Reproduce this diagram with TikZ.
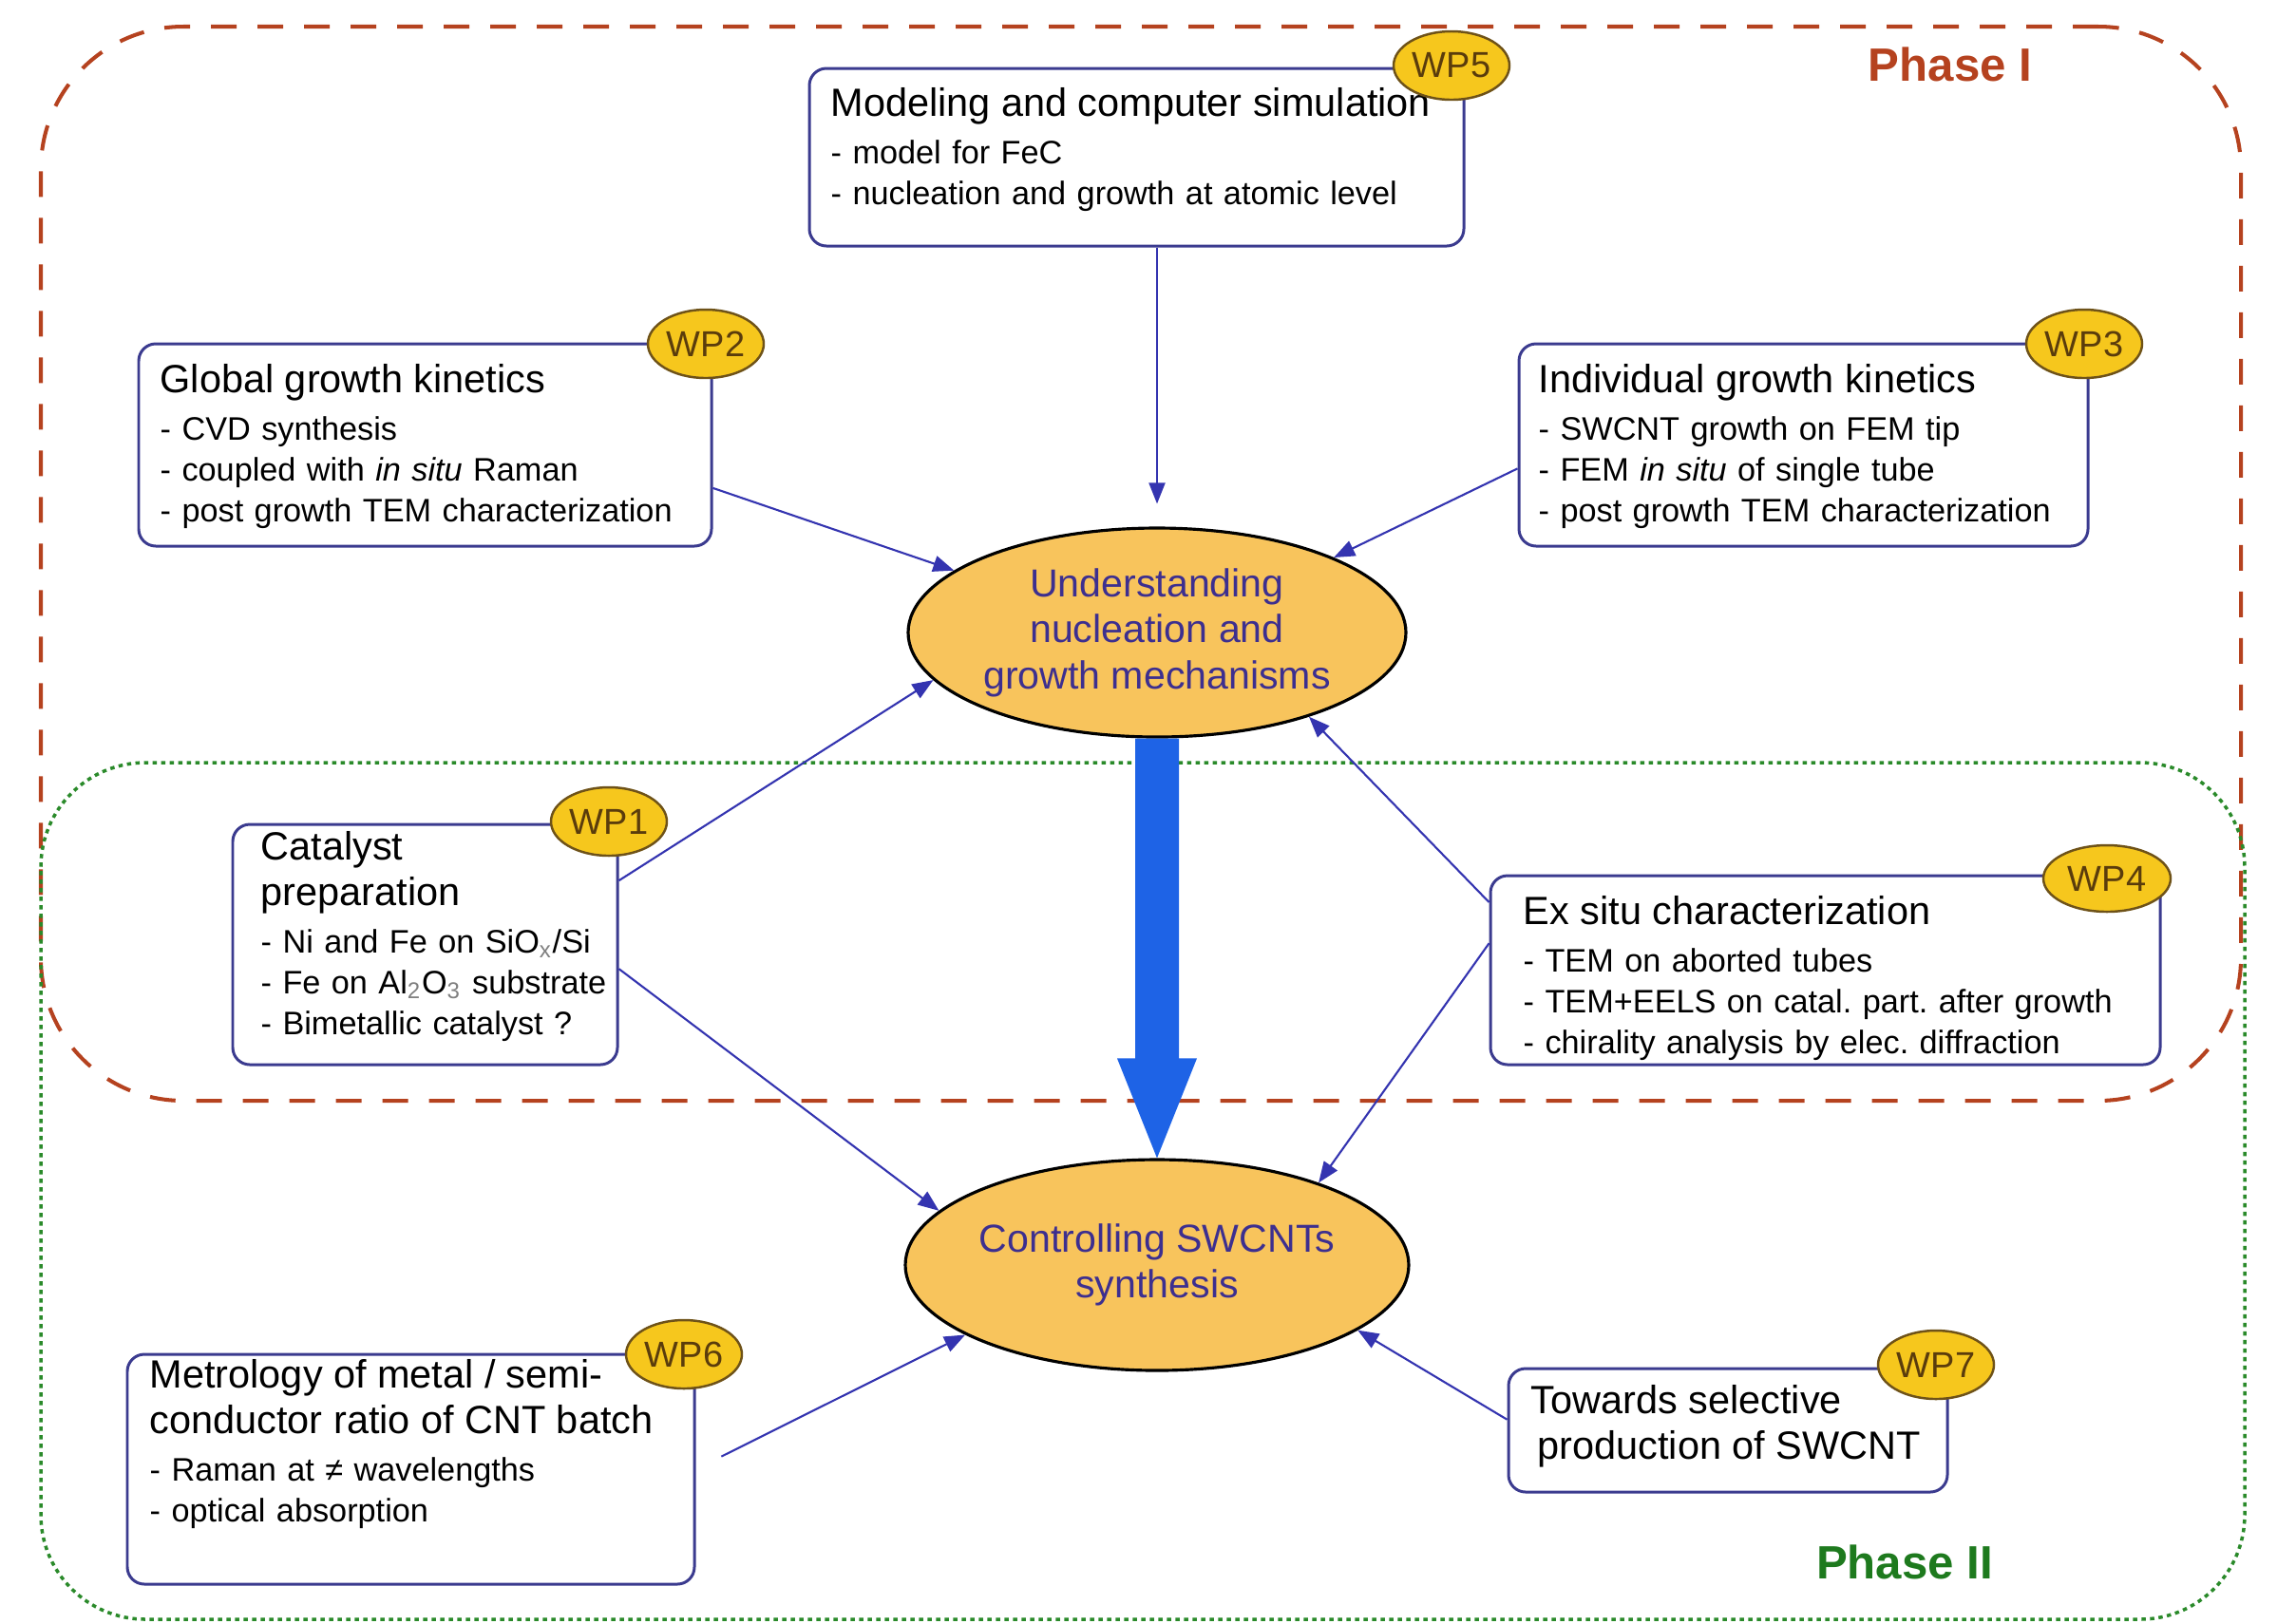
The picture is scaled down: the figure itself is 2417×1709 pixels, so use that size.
\documentclass[tikz,border=0pt]{standalone}
\usepackage{fontspec}
\setmainfont{Liberation Sans}
\usetikzlibrary{arrows.meta,calc,shapes.geometric}
\definecolor{phonec}{HTML}{B5421F}
\definecolor{phtwoc}{HTML}{2A8A2A}
\definecolor{phtwotext}{HTML}{1E7A1E}
\definecolor{boxc}{HTML}{3B3B8F}
\definecolor{arrowc}{HTML}{3434B0}
\definecolor{bigblue}{HTML}{1E63E6}
\definecolor{goalfill}{HTML}{F8C45C}
\definecolor{goaltext}{HTML}{3D2F8F}
\definecolor{badgefill}{HTML}{F6C71D}
\definecolor{badgedraw}{HTML}{6E5218}
\definecolor{badgetext}{HTML}{5A3C0C}
\newcommand\boxtitle[1]{{\fontsize{11.8pt}{13.7pt}\selectfont #1}}
\newcommand\subgrey[1]{\textsubscript{\textcolor{gray}{#1}}}
\frenchspacing
\begin{document}
\begin{tikzpicture}[x=0.1mm,y=-0.1mm,
  phaseone/.style={draw=phonec,line width=1.15pt,dash pattern=on 2.7mm off 2.2mm,rounded corners=15mm,inner sep=0pt},
  phasetwo/.style={draw=phtwoc,line width=1pt,dash pattern=on 0.45mm off 0.45mm,rounded corners=11mm,inner sep=0pt},
  phlabel/.style={anchor=base,inner sep=0pt,font=\fontsize{14pt}{16pt}\selectfont\bfseries},
  wpbox/.style={draw=boxc,line width=0.85pt,fill=white,rounded corners=1.8mm,inner sep=0pt},
  badge/.style={ellipse,draw=badgedraw,line width=0.7pt,fill=badgefill,minimum width=12.2mm,minimum height=7.2mm,inner sep=0pt,text=badgetext,font=\fontsize{10.8pt}{12pt}\selectfont},
  goal/.style={ellipse,draw=black,line width=0.9pt,fill=goalfill,minimum width=52.4mm,minimum height=22mm,inner sep=0pt,align=center,text=goaltext,font=\fontsize{11.7pt}{13.8pt}\selectfont},
  txt/.style={anchor=base west,inner sep=0pt,align=left,text width=#1,font=\fontsize{9.75pt}{12.3pt}\selectfont},
  feed/.style={draw=arrowc,line width=0.6pt,-{Triangle[width=1.7mm,length=2.2mm]}}
]
\useasboundingbox (0,0) rectangle (2417,1709);

% phases
\node[phaseone,minimum width=231.6mm,minimum height=113.1mm] (ph1) at (1201,593.5) {};
\node[phasetwo,minimum width=232mm,minimum height=90.2mm] (ph2) at (1203,1254) {};
\node[phlabel,text=phonec] (ph1label) at (2053,85) {Phase I};
\node[phlabel,text=phtwotext] (ph2label) at (2005,1662) {Phase II};

% boxes
\node[wpbox,minimum width=68.9mm,minimum height=18.7mm] (b5) at (1196.5,165.5) {};
\node[wpbox,minimum width=60.3mm,minimum height=21.3mm] (b2) at (447.5,468.5) {};
\node[wpbox,minimum width=59.9mm,minimum height=21.3mm] (b3) at (1898.5,468.5) {};
\node[wpbox,minimum width=40.5mm,minimum height=25.3mm] (b1) at (447.5,994.5) {};
\node[wpbox,minimum width=70.5mm,minimum height=19.9mm] (b4) at (1921.5,1021.5) {};
\node[wpbox,minimum width=59.7mm,minimum height=24.2mm] (b6) at (432.5,1547) {};
\node[wpbox,minimum width=46.2mm,minimum height=13mm] (b7) at (1819,1506) {};

% box texts
\node[txt=68mm] (t5) at (874,122) {\boxtitle{Modeling and computer simulation}\\[2pt]- model for FeC\\- nucleation and growth at atomic level};
\node[txt=58mm] (t2) at (168,413) {\boxtitle{Global growth kinetics}\\[2pt]- CVD synthesis\\- coupled with \textit{in situ} Raman\\- post growth TEM characterization};
\node[txt=58mm] (t3) at (1619,413) {\boxtitle{Individual growth kinetics}\\[2pt]- SWCNT growth on FEM tip\\- FEM \textit{in situ} of single tube\\- post growth TEM characterization};
\node[txt=38mm] (t1) at (274,905) {\boxtitle{Catalyst}\\[1.4pt]\boxtitle{preparation}\\[2pt]- Ni and Fe on SiO\subgrey{x}/Si\\- Fe on Al\subgrey{2}O\subgrey{3} substrate\\- Bimetallic catalyst ?};
\node[txt=68mm] (t4) at (1603,973) {\boxtitle{Ex situ characterization}\\[2pt]- TEM on aborted tubes\\- TEM+EELS on catal. part. after growth\\- chirality analysis by elec. diffraction};
\node[txt=58mm] (t6) at (157,1461) {\boxtitle{Metrology of metal / semi-}\\[1.4pt]\boxtitle{conductor ratio of CNT batch}\\[2pt]- Raman at ≠ wavelengths\\- optical absorption};
\node[txt=44mm] (t7) at (1611,1488) {\boxtitle{Towards selective}\\[1.4pt]\boxtitle{\,production of SWCNT}};

% goals
\node[goal] (e1) at (1218,666) {Understanding\\nucleation and\\growth mechanisms};
\node[goal,minimum height=22.2mm] (e2) at (1218,1332) {Controlling SWCNTs\\synthesis};

% badges
\node[badge] (w5) at (1528,69) {WP5};
\node[badge] (w2) at (743,362) {WP2};
\node[badge] (w3) at (2194,362) {WP3};
\node[badge] (w1) at (641,865) {WP1};
\node[badge,minimum width=13.4mm,minimum height=7mm] (w4) at (2218,925) {WP4};
\node[badge] (w6) at (720,1426) {WP6};
\node[badge] (w7) at (2038,1437) {WP7};

% big arrow
\fill[bigblue] ($(e1.south)+(-23,0)$) -- ($(e2.north)+(-23,-105)$) -- ($(e2.north)+(-42,-105)$) -- (e2.north)
  -- ($(e2.north)+(42,-105)$) -- ($(e2.north)+(23,-105)$) -- ($(e1.south)+(23,0)$) -- cycle;

% thin arrows
\draw[feed,shorten >=2.4mm] (b5.south -| e1.north) -- (e1.north);
\draw[feed] ($(b2.north east)!0.71!(b2.south east)$) -- (e1.163);
\draw[feed] ($(b3.north west)!0.615!(b3.south west)$) -- (e1.23);
\draw[feed] ($(b1.north east)!0.237!(b1.south east)$) -- (e1.192);
\draw[feed] ($(b4.north west)!0.146!(b4.south west)$) -- (e1.331);
\draw[feed] ($(b1.north east)!0.60!(b1.south east)$) -- (e2.166);
\draw[feed] ($(b4.north west)!0.36!(b4.south west)$) -- (e2.27);
\draw[feed,shorten <=3mm] (b6.east) -- (e2.200);
\draw[feed] ($(b7.north west)!0.415!(b7.south west)$) -- (e2.342);
\end{tikzpicture}
\end{document}
